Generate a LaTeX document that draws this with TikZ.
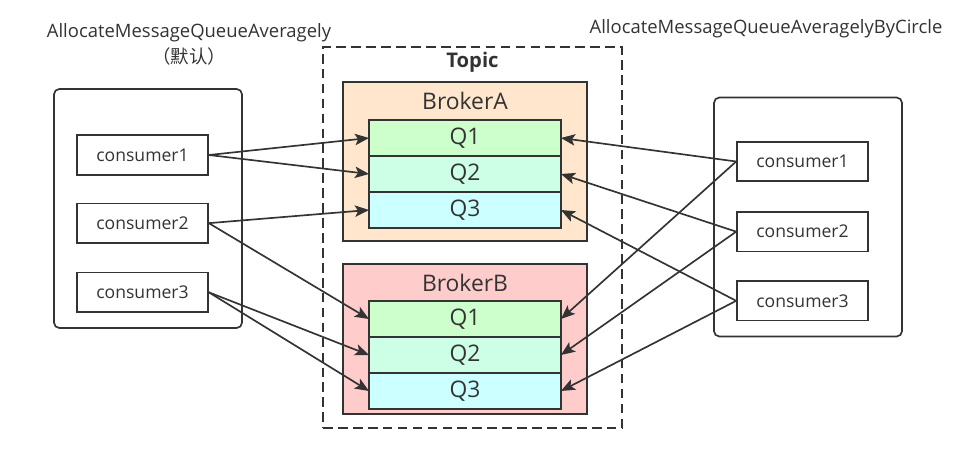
\documentclass[tikz,border=0pt]{standalone}
\usepackage{fontspec}
\setmainfont{Open Sans}
\newfontfamily\cjkfont{Noto Sans CJK SC}
\usepackage{xcolor}
\usepackage{tikz}
\usetikzlibrary{
  arrows.meta,
  positioning
}
\definecolor{linegray}{HTML}{333333}
\definecolor{brokerorange}{HTML}{FFE6CC}
\definecolor{brokerred}{HTML}{FFCCCC}
\definecolor{qgreen}{HTML}{CCFFCC}
\definecolor{qmint}{HTML}{CCFFE6}
\definecolor{qcyan}{HTML}{CCFFFF}
\tikzset{
  groupbox/.style={
    draw=linegray, line width=0.95pt,
    rectangle, rounded corners=3pt,
    minimum width=3.76cm, minimum height=4.78cm
  },
  topicbox/.style={
    draw=linegray, line width=0.95pt, dash pattern=on 5.5pt off 3pt,
    rectangle, minimum width=5.98cm, minimum height=7.62cm
  },
  brokerbox/.style={
    draw=linegray, line width=0.95pt,
    rectangle, minimum width=4.88cm
  },
  queuebox/.style={
    draw=linegray, line width=0.95pt, outer sep=0pt,
    rectangle, minimum width=3.84cm, minimum height=0.72cm,
    font=\fontsize{13}{15}\selectfont, text=linegray
  },
  consumerbox/.style={
    draw=linegray, line width=0.95pt,
    rectangle, minimum width=2.62cm, minimum height=0.79cm,
    font=\fontsize{10}{12}\selectfont, text=linegray
  },
  titletext/.style={
    font=\fontsize{10.5}{12}\selectfont, text=linegray, inner sep=0pt
  },
  qarrow/.style={
    -{Stealth[length=8pt, width=6.5pt, inset=1.8pt]}, line width=0.95pt, draw=linegray
  }
}

\begin{document}
\begin{tikzpicture}[x=0.02cm, y=-0.02cm]
    \useasboundingbox (0,0) rectangle (970,456);
    \node[titletext] (lefttitle) at (189,33) {AllocateMessageQueueAveragely};
    \node[titletext, below=3pt of lefttitle] (leftnote) {\cjkfont （默认）};
    \node[titletext] (righttitle) at (766,29) {AllocateMessageQueueAveragelyByCircle};

    \node[topicbox] (topic) at (472.5,237.5) {};
    \node[titletext, font=\fontsize{11.5}{13}\selectfont\bfseries] (topiclabel) at (472.5,62) {Topic};

    \node[brokerbox, fill=brokerorange, minimum height=3.18cm] (brokerA) at (465,161.5) {};
    \node[titletext, font=\fontsize{13}{15}\selectfont] (brokerAlabel) at (465,101) {BrokerA};
    \node[queuebox, fill=qgreen] (qa1) at (465,138) {Q1};
    \node[queuebox, fill=qmint, below=0pt of qa1] (qa2) {Q2};
    \node[queuebox, fill=qcyan, below=0pt of qa2] (qa3) {Q3};

    \node[brokerbox, fill=brokerred, minimum height=3.0cm] (brokerB) at (465,339) {};
    \node[titletext, font=\fontsize{13}{15}\selectfont] (brokerBlabel) at (465,283) {BrokerB};
    \node[queuebox, fill=qgreen] (qb1) at (465,319) {Q1};
    \node[queuebox, fill=qmint, below=0pt of qb1] (qb2) {Q2};
    \node[queuebox, fill=qcyan, below=0pt of qb2] (qb3) {Q3};

    \node[groupbox] (leftgroup) at (148,208.5) {};
    \node[consumerbox] (lc1) at (142.5,155) {consumer1};
    \node[consumerbox, below=0.54cm of lc1] (lc2) {consumer2};
    \node[consumerbox, below=0.56cm of lc2] (lc3) {consumer3};

    \node[groupbox] (rightgroup) at (808,217) {};
    \node[consumerbox] (rc1) at (802.5,161.5) {consumer1};
    \node[consumerbox, below=0.58cm of rc1] (rc2) {consumer2};
    \node[consumerbox, below=0.56cm of rc2] (rc3) {consumer3};

    \draw[qarrow] (lc1.east) -- (qa1.west);
    \draw[qarrow] (lc1.east) -- (qa2.west);
    \draw[qarrow] (lc2.east) -- (qa3.west);
    \draw[qarrow] (lc2.east) -- (qb1.west);
    \draw[qarrow] (lc3.east) -- (qb2.west);
    \draw[qarrow] (lc3.east) -- (qb3.west);

    \draw[qarrow] (rc1.west) -- (qa1.east);
    \draw[qarrow] (rc1.west) -- (qb1.east);
    \draw[qarrow] (rc2.west) -- (qa2.east);
    \draw[qarrow] (rc2.west) -- (qb2.east);
    \draw[qarrow] (rc3.west) -- (qa3.east);
    \draw[qarrow] (rc3.west) -- (qb3.east);
  \end{tikzpicture}
\end{document}
